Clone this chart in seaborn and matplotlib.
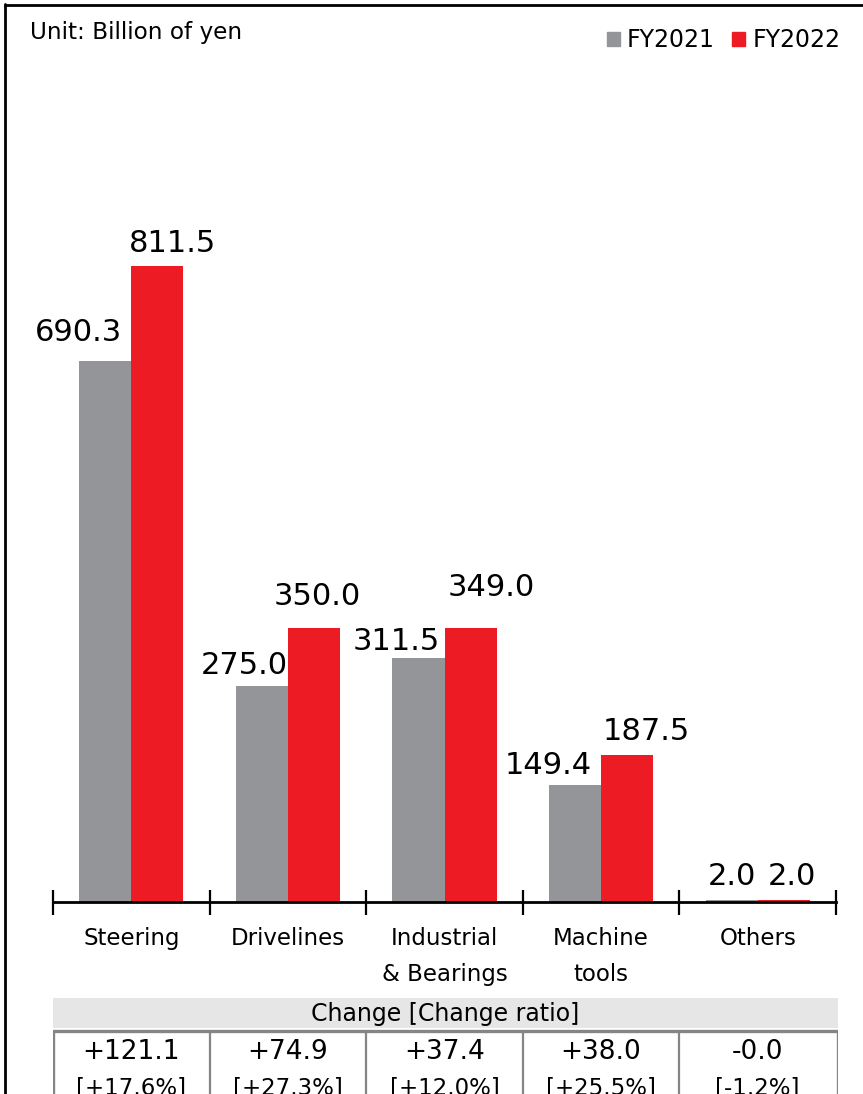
import matplotlib
matplotlib.use("Agg")
import matplotlib.pyplot as plt
from matplotlib.patches import Rectangle
from matplotlib.lines import Line2D
import seaborn as sns
import pandas as pd

# Segment sales, billions of yen
segments = ["Steering", "Drivelines", "Industrial\n& Bearings", "Machine\ntools", "Others"]
fy2021 = [690.3, 275.0, 311.5, 149.4, 2.0]
fy2022 = [811.5, 350.0, 349.0, 187.5, 2.0]
changes = ["+121.1", "+74.9", "+37.4", "+38.0", "-0.0"]
ratios = ["[+17.6%]", "[+27.3%]", "[+12.0%]", "[+25.5%]", "[-1.2%]"]
years = ["FY2021", "FY2022"]
colors = ["#939598", "#ED1C24"]

# Label nudges (pixels) so neighbouring value labels don't collide
label_dx = [[-27, -18, -22, -27, 0], [15, 3, 21, 19, 8]]
label_dy = [[20, 12, 8, 11, 15], [14, 23, 32, 15, 15]]

df = pd.DataFrame({
    "segment": segments * 2,
    "year": [years[0]] * len(segments) + [years[1]] * len(segments),
    "value": fy2021 + fy2022,
})

sns.set_theme(style="white")
plt.rcParams["font.family"] = ["DejaVu Sans"]
plt.rcParams["text.color"] = "black"
plt.rcParams["xtick.color"] = "black"
plt.rcParams["xtick.labelcolor"] = "black"

W, H = 863, 1094
fig = plt.figure(figsize=(W / 100, H / 100), dpi=100)
PX = 72 / 100  # points per pixel


def fig_rect(x0, y0, x1, y1):
    """Convert pixel box (top-left origin) to figure fraction [l, b, w, h]."""
    return [x0 / W, 1 - y1 / H, (x1 - x0) / W, (y1 - y0) / H]


# Main bar axes: baseline at y=902 px, spanning x 53..836 px
ax = fig.add_axes(fig_rect(53, 60, 836, 902))
sns.barplot(data=df, x="segment", y="value", hue="year", order=segments,
            hue_order=years, palette=colors, width=0.665, saturation=1,
            linewidth=0, ax=ax, legend=False)
ax.set_xlim(-0.5, len(segments) - 0.5)
ax.set_ylim(0, 842 / 0.7837)
ax.set_xlabel("")
ax.set_ylabel("")
ax.set_yticks([])
for s in ["top", "right", "left"]:
    ax.spines[s].set_visible(False)
ax.spines["bottom"].set_color("black")
ax.spines["bottom"].set_linewidth(2)
ax.set_xticks(range(len(segments)))
ax.set_xticklabels(segments, fontsize=16.5, linespacing=1.72, va="top")
ax.tick_params(axis="x", which="major", length=0, pad=18, bottom=True)
ax.set_xticks([i - 0.5 for i in range(len(segments) + 1)], minor=True)
ax.tick_params(axis="x", which="minor", length=18, width=1.6,
               direction="inout", color="black", bottom=True)

for k, cont in enumerate(ax.containers):
    for j, bar in enumerate(cont):
        cx = bar.get_x() + bar.get_width() / 2
        val = bar.get_height()
        ax.annotate(f"{val:.1f}", xy=(cx, val),
                    xytext=(label_dx[k][j] * PX, label_dy[k][j] * PX),
                    textcoords="offset points", ha="center", va="baseline",
                    fontsize=22, color="black")

# Heading and legend
fig.text(30 / W, 1 - 32 / H, "Unit: Billion of yen", fontsize=16.7,
         va="center", ha="left")
handles = [Rectangle((0, 0), 1, 1, color=c) for c in colors]
fig.legend(handles, years, loc="center right", bbox_to_anchor=(850 / W, 1 - 40 / H),
           frameon=False, fontsize=17, handlelength=0.55, handleheight=0.55,
           handletextpad=0.3, columnspacing=0.75, ncol=2, borderaxespad=0,
           labelcolor="black")

# Change table below the chart
tax = fig.add_axes(fig_rect(53, 998, 838, 1130))
tax.set_xlim(-0.5, (838 - 53) / ((836 - 53) / 5) - 0.5)
tax.set_ylim(1130, 998)
tax.axis("off")
xmax = tax.get_xlim()[1]
tax.add_patch(Rectangle((-0.5, 998), xmax + 0.5, 30, color="#E6E6E6", lw=0))
tax.text((xmax - 0.5) / 2, 1014, "Change [Change ratio]", ha="center",
         va="center", fontsize=17)
tax.add_patch(Rectangle((-0.5, 1031), xmax + 0.5, 100, facecolor="white",
                        edgecolor="#858585", lw=2.4))
for i in range(1, len(segments)):
    tax.add_line(Line2D([i - 0.5, i - 0.5], [1031, 1130], color="#858585", lw=1.6))
for i, (c, r) in enumerate(zip(changes, ratios)):
    tax.text(i, 1052, c, ha="center", va="center", fontsize=19)
    tax.text(i, 1089, r, ha="center", va="center", fontsize=16.5)

# Outer frame
fig.add_artist(Line2D([5 / W, 5 / W], [0, 1 - 4 / H], color="black", lw=2))
fig.add_artist(Line2D([5 / W, 1], [1 - 5 / H, 1 - 5 / H], color="black", lw=2))

fig.savefig("out.png", dpi=100)
